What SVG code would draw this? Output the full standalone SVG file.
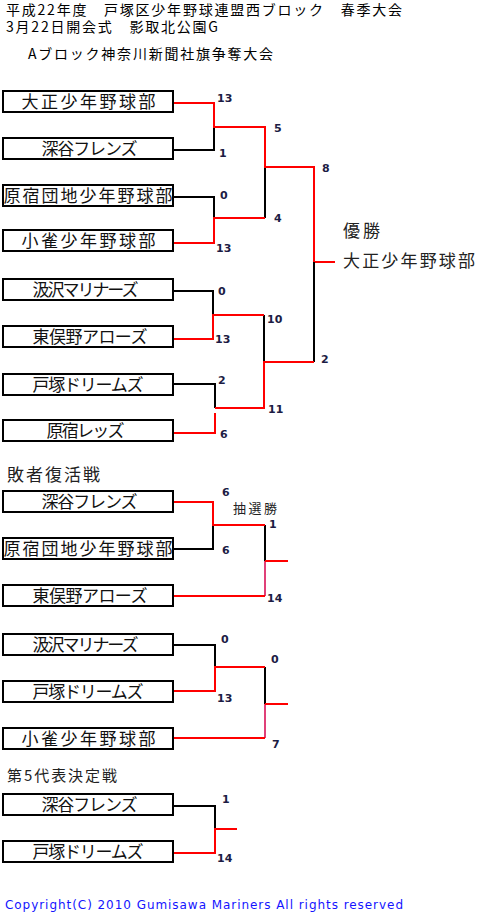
<svg xmlns="http://www.w3.org/2000/svg" width="477" height="914" viewBox="0 0 477 914">
<style>
.bg{fill:#fff}
.box rect{fill:#fff;stroke:#000;stroke-width:2}
.bt{font-family:"Noto Sans CJK JP","Noto Sans",sans-serif;font-size:17px;fill:#111}
.hd{font-family:"Noto Sans CJK JP","Noto Sans",sans-serif;font-size:14px;fill:#000}
.lb{font-family:"Noto Sans CJK JP","Noto Sans",sans-serif;fill:#222}
.sc{font-family:"DejaVu Sans",sans-serif;font-weight:bold;font-size:11px;fill:#1c1c44}
.r{fill:none;stroke:#ff0000;stroke-width:2}
.k{fill:none;stroke:#000;stroke-width:2}
.p{fill:none;stroke:#e04078;stroke-width:2}
.cp{font-family:"DejaVu Sans",sans-serif;font-size:12px;fill:#1414ff}
</style>
<rect class="bg" x="0" y="0" width="477" height="914"/>
<g id="header">
<text class="hd" x="6" y="15" font-size="13.5" textLength="396" lengthAdjust="spacing">平成22年度　戸塚区少年野球連盟西ブロック　春季大会</text>
<text class="hd" x="6" y="32" font-size="13.5" textLength="212" lengthAdjust="spacing">3月22日開会式　影取北公園G</text>
<text class="hd" x="28" y="59" textLength="245" lengthAdjust="spacing">Aブロック神奈川新聞社旗争奪大会</text>
</g>
<g id="connectors">
<path class="k" d="M174 150H214V127"/>
<path class="k" d="M174 197H214V218"/>
<path class="k" d="M265 218V167"/>
<path class="r" d="M174 103H214V127H265V167H314V262H335"/>
<path class="r" d="M174 243H214V218H265"/>
<path class="k" d="M174 291H213V315"/>
<path class="k" d="M174 384H215V408"/>
<path class="k" d="M264 315V362"/>
<path class="k" d="M314 262V362"/>
<path class="r" d="M174 339H213V315H264"/>
<path class="r" d="M174 433H215V413"/>
<path class="r" d="M215 408H264V362H314"/>
<path class="k" d="M174 549H213V525"/>
<path class="k" d="M265 525V561"/>
<path class="r" d="M174 502H213V525H265"/>
<path class="p" d="M265 561V596"/>
<path class="r" d="M174 596H265"/>
<path class="r" d="M265 561H288"/>
<path class="k" d="M174 645H215V667"/>
<path class="k" d="M265 667V704"/>
<path class="r" d="M174 691H215V667H265"/>
<path class="p" d="M265 704V738"/>
<path class="r" d="M174 738H265"/>
<path class="r" d="M265 704H288"/>
<path class="k" d="M174 806H215V829"/>
<path class="r" d="M174 853H215V829H237"/>
</g>
<g id="scores">
<text class="sc" x="217" y="102">13</text>
<text class="sc" x="219" y="157">1</text>
<text class="sc" x="274" y="132">5</text>
<text class="sc" x="322" y="172">8</text>
<text class="sc" x="220" y="199">0</text>
<text class="sc" x="274" y="222">4</text>
<text class="sc" x="216" y="252">13</text>
<text class="sc" x="218" y="295">0</text>
<text class="sc" x="267" y="323">10</text>
<text class="sc" x="215" y="343">13</text>
<text class="sc" x="321" y="363">2</text>
<text class="sc" x="218" y="384">2</text>
<text class="sc" x="268" y="413">11</text>
<text class="sc" x="220" y="438">6</text>
<text class="sc" x="222" y="496">6</text>
<text class="sc" x="269" y="528">1</text>
<text class="sc" x="222" y="554">6</text>
<text class="sc" x="267" y="602">14</text>
<text class="sc" x="221" y="643">0</text>
<text class="sc" x="271" y="663">0</text>
<text class="sc" x="217" y="702">13</text>
<text class="sc" x="272" y="748">7</text>
<text class="sc" x="222" y="803">1</text>
<text class="sc" x="217" y="862">14</text>
</g>
<g id="labels">
<text class="lb" x="233" y="513" font-size="13" textLength="44" lengthAdjust="spacing">抽選勝</text>
<text class="lb" x="343" y="237" font-size="17" textLength="37" lengthAdjust="spacing">優勝</text>
<text class="lb" x="343" y="267" font-size="17" textLength="132" lengthAdjust="spacing">大正少年野球部</text>
<text class="lb" x="7" y="481" font-size="17" textLength="93" lengthAdjust="spacing">敗者復活戦</text>
<text class="lb" x="7" y="781" font-size="15" textLength="110" lengthAdjust="spacing">第5代表決定戦</text>
</g>
<g id="n1" class="box"><rect x="3" y="91" width="170" height="21"/><text class="bt" x="21.5" y="108" textLength="134" lengthAdjust="spacing">大正少年野球部</text></g>
<g id="n2" class="box"><rect x="3" y="138" width="170" height="21"/><text class="bt" x="41.5" y="155" textLength="96" lengthAdjust="spacing">深谷フレンズ</text></g>
<g id="n3" class="box"><rect x="3" y="185" width="170" height="21"/><text class="bt" x="3.5" y="202" textLength="169" lengthAdjust="spacing">原宿団地少年野球部</text></g>
<g id="n4" class="box"><rect x="3" y="230" width="170" height="21"/><text class="bt" x="21.5" y="247" textLength="134" lengthAdjust="spacing">小雀少年野球部</text></g>
<g id="n5" class="box"><rect x="3" y="279" width="170" height="21"/><text class="bt" x="32.5" y="296" textLength="106" lengthAdjust="spacing">汲沢マリナーズ</text></g>
<g id="n6" class="box"><rect x="3" y="326" width="170" height="21"/><text class="bt" x="32.5" y="343" textLength="115" lengthAdjust="spacing">東俣野アローズ</text></g>
<g id="n7" class="box"><rect x="3" y="374" width="170" height="21"/><text class="bt" x="32.5" y="391" textLength="111" lengthAdjust="spacing">戸塚ドリームズ</text></g>
<g id="n8" class="box"><rect x="3" y="420" width="170" height="21"/><text class="bt" x="46.5" y="437" textLength="78" lengthAdjust="spacing">原宿レッズ</text></g>
<g id="n9" class="box"><rect x="3" y="491" width="170" height="21"/><text class="bt" x="41.5" y="508" textLength="96" lengthAdjust="spacing">深谷フレンズ</text></g>
<g id="n10" class="box"><rect x="3" y="538" width="170" height="21"/><text class="bt" x="3.5" y="555" textLength="169" lengthAdjust="spacing">原宿団地少年野球部</text></g>
<g id="n11" class="box"><rect x="3" y="585" width="170" height="21"/><text class="bt" x="32.5" y="602" textLength="115" lengthAdjust="spacing">東俣野アローズ</text></g>
<g id="n12" class="box"><rect x="3" y="634" width="170" height="21"/><text class="bt" x="32.5" y="651" textLength="106" lengthAdjust="spacing">汲沢マリナーズ</text></g>
<g id="n13" class="box"><rect x="3" y="681" width="170" height="21"/><text class="bt" x="32.5" y="698" textLength="111" lengthAdjust="spacing">戸塚ドリームズ</text></g>
<g id="n14" class="box"><rect x="3" y="728" width="170" height="21"/><text class="bt" x="21.5" y="745" textLength="134" lengthAdjust="spacing">小雀少年野球部</text></g>
<g id="n15" class="box"><rect x="3" y="794" width="170" height="21"/><text class="bt" x="41.5" y="811" textLength="96" lengthAdjust="spacing">深谷フレンズ</text></g>
<g id="n16" class="box"><rect x="3" y="841" width="170" height="21"/><text class="bt" x="32.5" y="858" textLength="111" lengthAdjust="spacing">戸塚ドリームズ</text></g>
<g id="footer">
<text class="cp" x="5" y="909" textLength="398" lengthAdjust="spacing">Copyright(C) 2010 Gumisawa Mariners All rights reserved</text>
</g>
</svg>
